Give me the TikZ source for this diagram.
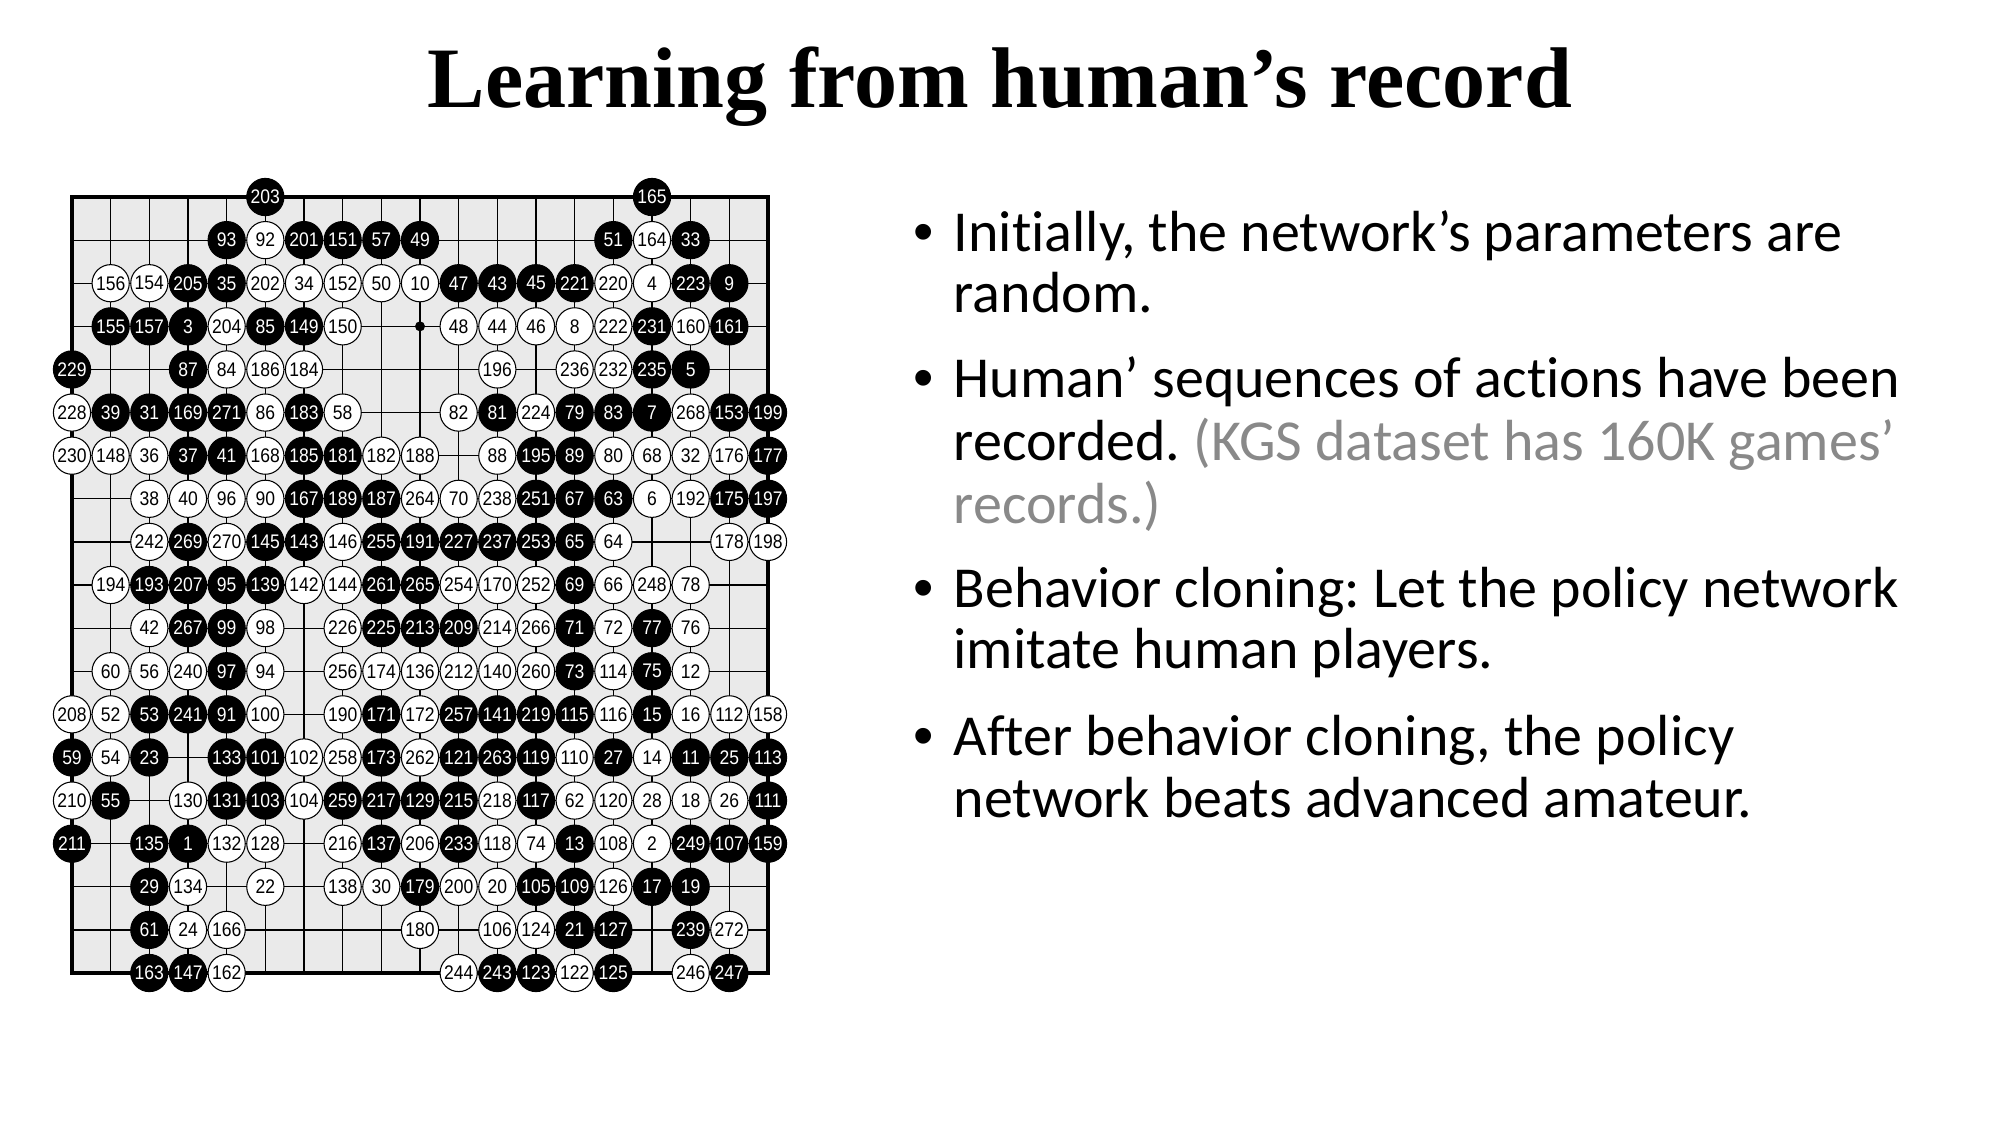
\documentclass[tikz,border=0pt]{standalone}
\usepackage{fontspec}
\setmainfont{Carlito}[Ligatures=NoCommon]
\newfontfamily\titlefont{Liberation Serif}
\newfontfamily\stonefont{Liberation Sans}[FakeStretch=0.89]
\newfontfamily\bulletfont{Liberation Sans}
\frenchspacing
\definecolor{boardgray}{RGB}{234,234,234}
\definecolor{notegray}{RGB}{137,137,137}
\tikzset{
  stone/.style={circle, draw=black, line width=0.3pt, minimum size=0.372cm,
    inner sep=0pt, font=\stonefont\fontsize{5.6}{5.6}\selectfont},
  bstone/.style={stone, fill=black, text=white},
  wstone/.style={stone, fill=white, text=black},
  gridline/.style={line width=0.35pt, black},
  boardedge/.style={line width=0.9pt, black},
  bodytext/.style={inner sep=0pt, font=\fontsize{16.5}{19}\selectfont},
  bulletline/.style={bodytext, anchor=base west},
  bulletdot/.style={inner sep=0pt, anchor=base, font=\bulletfont\fontsize{16.5}{19}\selectfont},
  titletext/.style={inner sep=0pt, anchor=base,
    font=\titlefont\bfseries\fontsize{24.5}{28}\selectfont},
}
% one row of stones: #1 = row index, #2 = list of column/move pairs
\newcommand\blackrow[2]{\foreach \c/\n in {#2}{\node[bstone] (s\n) at (\c,#1) {\n};}}
\newcommand\whiterow[2]{\foreach \c/\n in {#2}{\node[wstone] (s\n) at (\c,#1) {\n};}}
\begin{document}
\begin{tikzpicture}
\useasboundingbox (0,0) rectangle (20,-11.25);
\fill[white] (0,0) rectangle (20,-11.25);

% title
\node[titletext] (title) at (10,-1.07) {Learning from human’s record};

% game record on a 19x19 board
\begin{scope}[shift={(0.72,-1.97)}, x=0.38667cm, y=-0.43111cm]
  \fill[boardgray] (0,0) rectangle (18,18);
  \foreach \i in {1,...,17}{
    \draw[gridline] (\i,0) -- (\i,18);
    \draw[gridline] (0,\i) -- (18,\i);
  }
  \draw[boardedge] (0,0) rectangle (18,18);
  \node[circle, fill=black, inner sep=0pt, minimum size=0.1cm] (hoshi) at (9,3) {};

  \blackrow{0}{5/203,15/165}
  \blackrow{1}{4/93,6/201,7/151,8/57,9/49,14/51,16/33}
  \whiterow{1}{5/92,15/164}
  \blackrow{2}{3/205,4/35,10/47,11/43,12/45,13/221,16/223,17/9}
  \whiterow{2}{1/156,2/154,5/202,6/34,7/152,8/50,9/10,14/220,15/4}
  \blackrow{3}{1/155,2/157,3/3,5/85,6/149,15/231,17/161}
  \whiterow{3}{4/204,7/150,10/48,11/44,12/46,13/8,14/222,16/160}
  \blackrow{4}{0/229,3/87,15/235,16/5}
  \whiterow{4}{4/84,5/186,6/184,11/196,13/236,14/232}
  \blackrow{5}{1/39,2/31,3/169,4/271,6/183,11/81,13/79,14/83,15/7,17/153,18/199}
  \whiterow{5}{0/228,5/86,7/58,10/82,12/224,16/268}
  \blackrow{6}{3/37,4/41,6/185,7/181,12/195,13/89,18/177}
  \whiterow{6}{0/230,1/148,2/36,5/168,8/182,9/188,11/88,14/80,15/68,16/32,17/176}
  \blackrow{7}{6/167,7/189,8/187,12/251,13/67,14/63,17/175,18/197}
  \whiterow{7}{2/38,3/40,4/96,5/90,9/264,10/70,11/238,15/6,16/192}
  \blackrow{8}{3/269,5/145,6/143,8/255,9/191,10/227,11/237,12/253,13/65}
  \whiterow{8}{2/242,4/270,7/146,14/64,17/178,18/198}
  \blackrow{9}{2/193,3/207,4/95,5/139,8/261,9/265,13/69}
  \whiterow{9}{1/194,6/142,7/144,10/254,11/170,12/252,14/66,15/248,16/78}
  \blackrow{10}{3/267,4/99,8/225,9/213,10/209,13/71,15/77}
  \whiterow{10}{2/42,5/98,7/226,11/214,12/266,14/72,16/76}
  \blackrow{11}{4/97,13/73,15/75}
  \whiterow{11}{1/60,2/56,3/240,5/94,7/256,8/174,9/136,10/212,11/140,12/260,14/114,16/12}
  \blackrow{12}{2/53,3/241,4/91,8/171,10/257,11/141,12/219,13/115,15/15}
  \whiterow{12}{0/208,1/52,5/100,7/190,9/172,14/116,16/16,17/112,18/158}
  \blackrow{13}{0/59,2/23,4/133,5/101,8/173,10/121,11/263,12/119,14/27,16/11,17/25,18/113}
  \whiterow{13}{1/54,6/102,7/258,9/262,13/110,15/14}
  \blackrow{14}{1/55,4/131,5/103,7/259,8/217,9/129,10/215,12/117,18/111}
  \whiterow{14}{0/210,3/130,6/104,11/218,13/62,14/120,15/28,16/18,17/26}
  \blackrow{15}{0/211,2/135,3/1,8/137,10/233,13/13,16/249,17/107,18/159}
  \whiterow{15}{4/132,5/128,7/216,9/206,11/118,12/74,14/108,15/2}
  \blackrow{16}{2/29,9/179,12/105,13/109,15/17,16/19}
  \whiterow{16}{3/134,5/22,7/138,8/30,10/200,11/20,14/126}
  \blackrow{17}{2/61,13/21,14/127,16/239}
  \whiterow{17}{3/24,4/166,9/180,11/106,12/124,17/272}
  \blackrow{18}{2/163,3/147,11/243,12/123,14/125,17/247}
  \whiterow{18}{4/162,10/244,13/122,16/246}
\end{scope}

% bullet points
\node[bulletdot] (d1) at (9.24,-2.51) {•};
\node[bulletline] (b1a) at (9.53,-2.51) {Initially, the network’s parameters are};
\node[bulletline] (b1b) at (9.53,-3.125) {random.};

\node[bulletdot] (d2) at (9.24,-3.97) {•};
\node[bulletline] (b2a) at (9.53,-3.97) {Human’ sequences of actions have been};
\node[bulletline] (b2b) at (9.53,-4.60) {recorded. {\color{notegray}(KGS dataset has 160K games’}};
\node[bulletline] (b2c) at (9.53,-5.23) {\color{notegray}records.)};

\node[bulletdot] (d3) at (9.24,-6.07) {•};
\node[bulletline] (b3a) at (9.53,-6.07) {Behavior cloning: Let the policy network};
\node[bulletline] (b3b) at (9.53,-6.68) {imitate human players.};

\node[bulletdot] (d4) at (9.24,-7.55) {•};
\node[bulletline] (b4a) at (9.53,-7.55) {After behavior cloning, the policy};
\node[bulletline] (b4b) at (9.53,-8.175) {network beats advanced amateur.};
\end{tikzpicture}
\end{document}
